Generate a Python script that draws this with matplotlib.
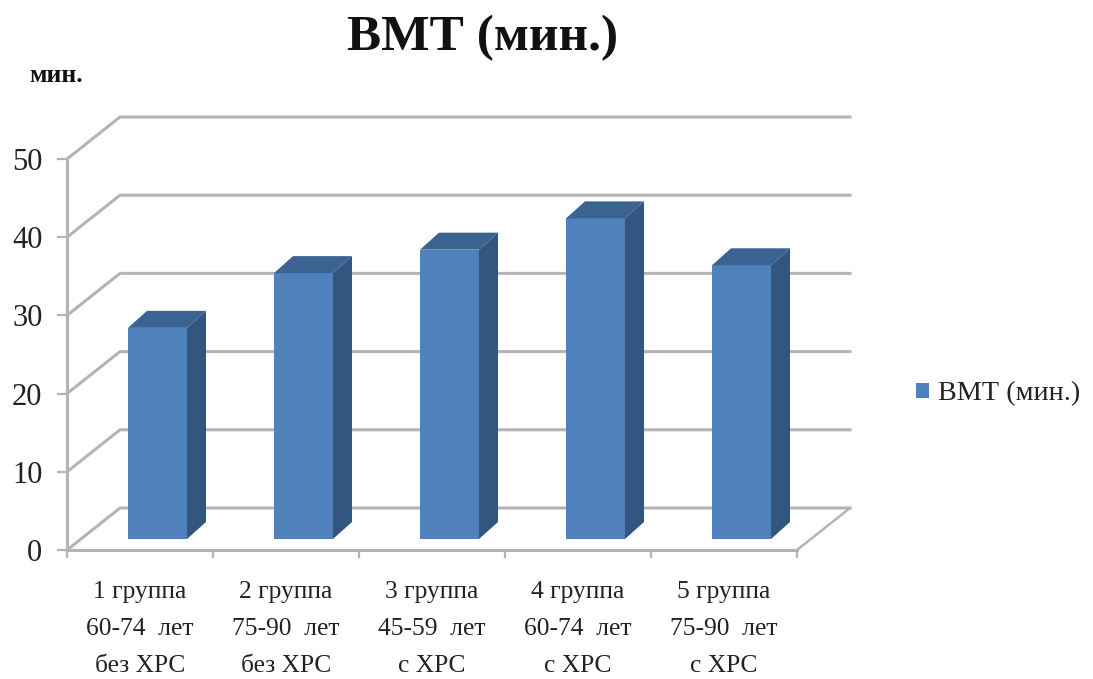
import matplotlib
matplotlib.use('Agg')
import matplotlib.pyplot as plt
from matplotlib.patches import Polygon

groups = ['1 группа\n60-74  лет\nбез ХРС', '2 группа\n75-90  лет\nбез ХРС',
          '3 группа\n45-59  лет\nс ХРС', '4 группа\n60-74  лет\nс ХРС',
          '5 группа\n75-90  лет\nс ХРС']
values = [27, 34, 37, 41, 35]
y_ticks = [0, 10, 20, 30, 40, 50]
series_name = 'ВМТ (мин.)'

W, H = 1093, 679
plt.rcParams['font.family'] = ['Liberation Serif', 'DejaVu Serif']

fig = plt.figure(figsize=(W / 100, H / 100), dpi=100)
ax = fig.add_axes([67 / W, 1 - 550 / H, 730 / W, 391 / H])
ax.set_xlim(0, 5)
ax.set_ylim(0, 50)

# pixel sizes converted to data units
px_x = 5 / 730
px_y = 50 / 391
wall_dx, wall_dy = 53 * px_x, 42 * px_y

grid_color = '#b4b4b4'
front = '#4f81bd'
side = '#325680'
top = '#3b6391'

# back wall and floor lines
for v in y_ticks:
    ax.plot([0, wall_dx, 5 + wall_dx], [v, v + wall_dy, v + wall_dy],
            color=grid_color, lw=2.2, clip_on=False, zorder=1,
            solid_joinstyle='round')
ax.plot([5, 5 + wall_dx], [0, wall_dy], color=grid_color, lw=1.8,
        clip_on=False, zorder=1)

# 3d look bars: front face plus side and top faces
bar_w = 59 * px_x
bar_dx, bar_dy = 19 * px_x, 17 * px_y
lift = 11 * px_y
x_pos = [i + 0.5 + 17.5 * px_x for i in range(len(values))]

bars = ax.bar(x_pos, values, width=bar_w, bottom=lift, color=front, zorder=3,
              label=series_name)
for x, v in zip(x_pos, values):
    xr = x + bar_w / 2
    xl = x - bar_w / 2
    yt = v + lift
    ax.add_patch(Polygon([(xr, lift), (xr + bar_dx, lift + bar_dy),
                          (xr + bar_dx, yt + bar_dy), (xr, yt)],
                         color=side, lw=0, zorder=3, clip_on=False))
    ax.add_patch(Polygon([(xl, yt), (xl + bar_dx, yt + bar_dy),
                          (xr + bar_dx, yt + bar_dy), (xr, yt)],
                         color=top, lw=0, zorder=3, clip_on=False))

# axes
for s in ['top', 'right']:
    ax.spines[s].set_visible(False)
for s in ['left', 'bottom']:
    ax.spines[s].set_color(grid_color)
    ax.spines[s].set_linewidth(2.2)
    ax.spines[s].set_zorder(2)

ax.set_yticks(y_ticks)
ax.set_yticklabels([str(v) for v in y_ticks], fontsize=22, color='#222222')
ax.tick_params(axis='y', length=7, width=1.6, color=grid_color, pad=10.7)

ax.set_xticks(range(6))
ax.set_xticklabels([])
ax.set_xticks([i + 0.5 for i in range(5)], minor=True)
ax.set_xticklabels(groups, minor=True, fontsize=18.4, color='#222222',
                   linespacing=1.88)
ax.tick_params(axis='x', which='major', length=6, width=1.6, color=grid_color)
ax.tick_params(axis='x', which='minor', length=0, pad=22.5)

fig.text(483 / W, 1 - 38 / H, series_name, ha='center', va='center',
         fontsize=37, fontweight='bold', color='#111111')
fig.text(56 / W, 1 - 76 / H, 'мин.', ha='center', va='center',
         fontsize=18.5, fontweight='bold', color='#111111')

fig.legend(handles=[bars], labels=[series_name], loc='center left',
           bbox_to_anchor=(905 / W, 1 - 394 / H), frameon=False, fontsize=20.3,
           handlelength=0.46, handleheight=0.46, handletextpad=0.3,
           labelcolor='#222222', borderpad=0, borderaxespad=0.4)

fig.savefig('out.png', dpi=100)
